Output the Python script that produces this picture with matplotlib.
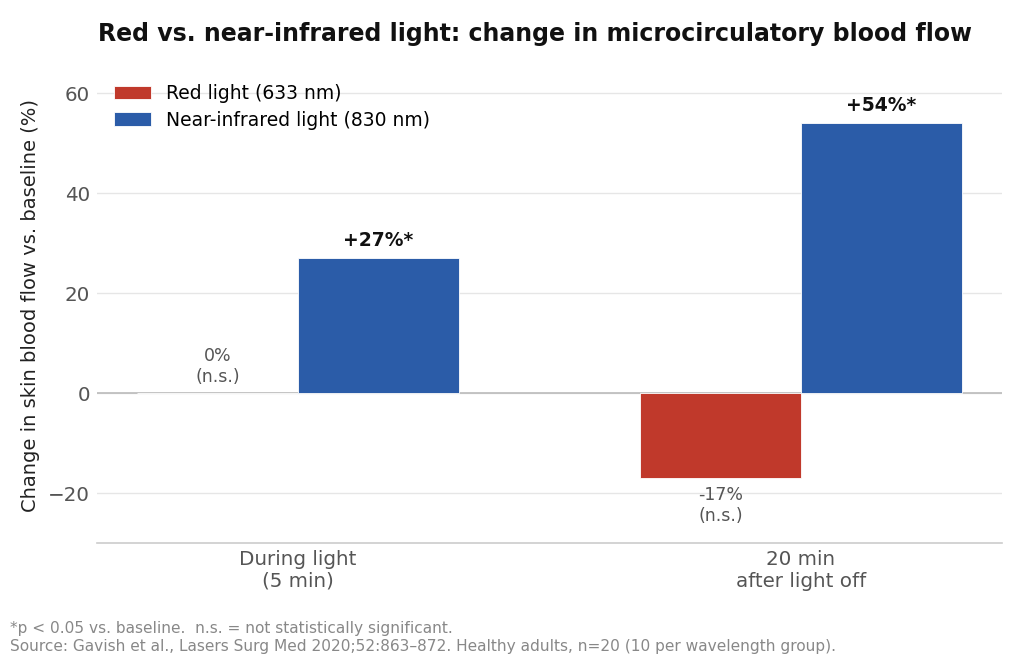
import numpy as np
import matplotlib.pyplot as plt

groups = ['During light\n(5 min)', '20 min\nafter light off']
red_vals = [0, -17]
nir_vals = [27, 54]
red_labels = ['0%\n(n.s.)', '-17%\n(n.s.)']
nir_labels = ['+27%*', '+54%*']

red_color = '#c0392b'
blue_color = '#2b5ca8'

fig = plt.figure(figsize=(10.24, 6.54), dpi=100)
ax = fig.add_axes([0.0947, 0.1697, 0.8838, 0.7263])

x = np.arange(len(groups))
w = 0.32

ax.bar(x - w/2, red_vals, w, color=red_color, edgecolor='white', linewidth=0.6,
       label='Red light (633 nm)', zorder=3)
ax.bar(x + w/2, nir_vals, w, color=blue_color, edgecolor='white', linewidth=0.6,
       label='Near-infrared light (830 nm)', zorder=3)

ax.axhline(0, color='#bbbbbb', linewidth=1.2, zorder=2)

for i, v in enumerate(red_vals):
    if v >= 0:
        ax.text(x[i] - w/2, v + 1.5, red_labels[i], ha='center', va='bottom',
                fontsize=12.5, color='#555555')
    else:
        ax.text(x[i] - w/2, v - 1.6, red_labels[i], ha='center', va='top',
                fontsize=12.5, color='#555555')
for i, v in enumerate(nir_vals):
    ax.text(x[i] + w/2, v + 1.7, nir_labels[i], ha='center', va='bottom',
            fontsize=13.5, fontweight='bold', color='#111111')

ax.set_xlim(-0.4, 1.4)
ax.set_ylim(-30, 65)
ax.set_yticks([-20, 0, 20, 40, 60])
ax.set_xticks(x)
ax.set_xticklabels(groups)
ax.tick_params(axis='y', length=0, labelsize=14.3, colors='#555555', pad=5)
ax.tick_params(axis='x', length=0, labelsize=14.3, colors='#555555', pad=5)
ax.grid(axis='y', color='#e6e6e6', linewidth=1, zorder=0)
ax.set_axisbelow(True)
for s in ['top', 'right', 'left']:
    ax.spines[s].set_visible(False)
ax.spines['bottom'].set_color('#cccccc')
ax.spines['bottom'].set_linewidth(1.2)

ax.set_ylabel('Change in skin blood flow vs. baseline (%)', fontsize=14, color='#222222',
              labelpad=6)
fig.suptitle('Red vs. near-infrared light: change in microcirculatory blood flow',
             fontsize=17, fontweight='bold', x=0.522, y=0.967, color='#111111')

ax.legend(loc='upper left', fontsize=13.5, frameon=False, bbox_to_anchor=(0.0, 1.002),
          handlelength=2.0, handleheight=0.75, labelspacing=0.42)

fig.text(0.01, 0.025, '*p < 0.05 vs. baseline.  n.s. = not statistically significant.\n'
         'Source: Gavish et al., Lasers Surg Med 2020;52:863\u2013872. Healthy adults, n=20 (10 per wavelength group).',
         fontsize=11.1, color='#888888', ha='left', va='center', linespacing=1.25)

fig.savefig('out.png', dpi=100)
